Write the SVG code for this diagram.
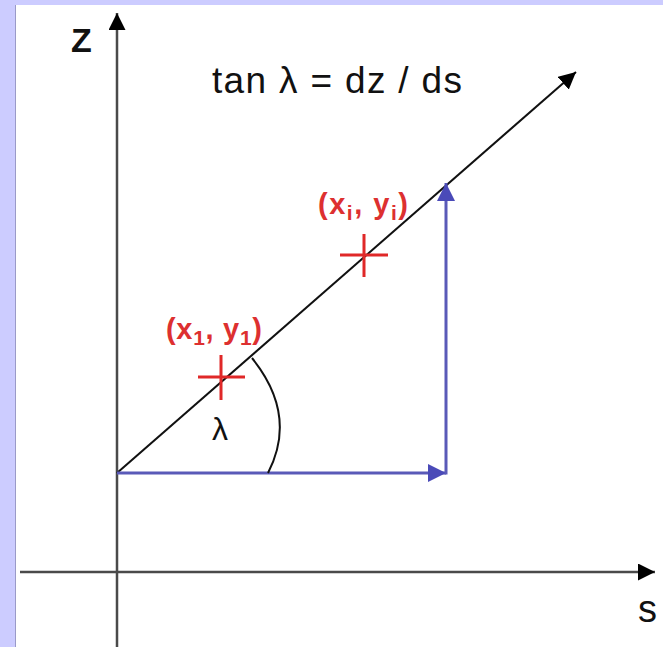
<svg xmlns="http://www.w3.org/2000/svg" width="663" height="647" viewBox="0 0 663 647">
<style>
.lbl{font-family:"Liberation Sans",Arial,sans-serif;fill:#111}
.red{font-family:"Liberation Sans",Arial,sans-serif;fill:#dd3030;font-weight:bold}
.axis{stroke:#4a4a4a;stroke-width:2.5;fill:none}
.blue{stroke:#5a5ab8;stroke-width:3;fill:none}
.cross{stroke:#e02828;stroke-width:3;fill:none}
</style>
<defs>
<marker id="ah" viewBox="0 0 10 10" refX="10" refY="5" markerUnits="userSpaceOnUse" markerWidth="17" markerHeight="17" orient="auto"><path d="M0,0 L10,5 L0,10 Z" fill="#000"/></marker>
<marker id="ahb" viewBox="0 0 10 10" refX="10" refY="5" markerUnits="userSpaceOnUse" markerWidth="18" markerHeight="19" orient="auto"><path d="M0,0 L10,5 L0,10 Z" fill="#4a4ab8"/></marker>
</defs>
<rect x="0" y="0" width="663" height="647" fill="#ccccff"/>
<rect x="16" y="5" width="647" height="642" fill="#ffffff"/>
<line x1="15.5" y1="5" x2="15.5" y2="647" stroke="#9a9ac8" stroke-width="1"/>
<g id="connectors">
<line class="axis" x1="117" y1="647" x2="117" y2="13" marker-end="url(#ah)"/>
<line class="axis" x1="20" y1="572" x2="655" y2="572" marker-end="url(#ah)"/>
<line x1="117" y1="473" x2="576" y2="72" stroke="#111" stroke-width="2" marker-end="url(#ah)"/>
<line class="blue" x1="117" y1="473" x2="446" y2="473" marker-end="url(#ahb)"/>
<line class="blue" x1="446" y1="474.5" x2="446" y2="183" marker-end="url(#ahb)"/>
<path d="M252,358 Q298,415 268,473" stroke="#111" stroke-width="2" fill="none"/>
</g>
<g id="axis-z-label"><text class="lbl" x="71" y="52" font-size="34" font-weight="bold" textLength="20">Z</text></g>
<g id="axis-s-label"><text class="lbl" x="638" y="622" font-size="38">s</text></g>
<g id="title"><text class="lbl" x="212" y="93" font-size="37" textLength="250" lengthAdjust="spacing">tan λ = dz / ds</text></g>
<g id="angle-label"><text class="lbl" x="212" y="440" font-size="32">λ</text></g>
<g id="point-1">
<path class="cross" d="M198,377 H245 M221,355 V400"/>
<text class="red" x="166" y="339" font-size="29" textLength="96" lengthAdjust="spacing">(x<tspan font-size="21" dy="6">1</tspan><tspan dy="-6">, y</tspan><tspan font-size="21" dy="6">1</tspan><tspan dy="-6">)</tspan></text>
</g>
<g id="point-i">
<path class="cross" d="M340,255 H388 M364,234 V277"/>
<text class="red" x="318" y="214" font-size="29" textLength="90" lengthAdjust="spacing">(x<tspan font-size="21" dy="6">i</tspan><tspan dy="-6">, y</tspan><tspan font-size="21" dy="6">i</tspan><tspan dy="-6">)</tspan></text>
</g>
</svg>
